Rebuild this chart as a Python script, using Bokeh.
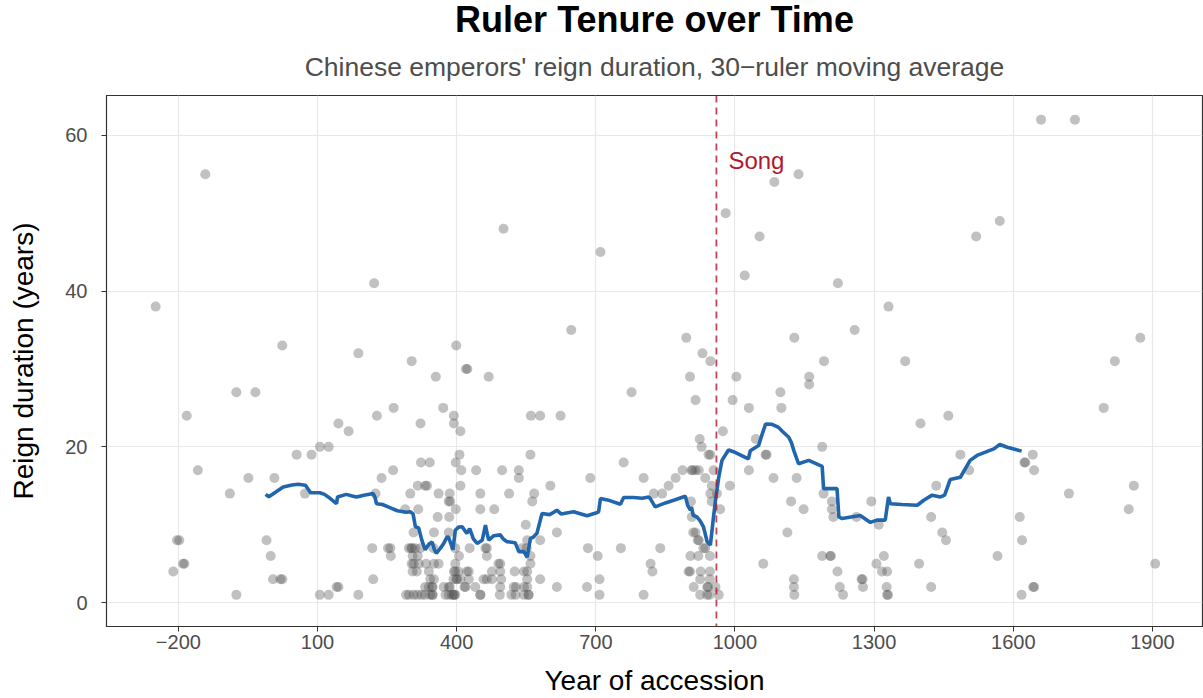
from bokeh.plotting import figure
from bokeh.models import Range1d, FixedTicker, Span, Label, Title
from bokeh.embed import file_html
from bokeh.resources import INLINE

# ---- data ----
accession_year = [
    # before 290
    -249, -211, -203, -198, -190, -187, -182, -158, -142, -89, -75, -75, -49, -34, -10, -1,
    4, 7, 20, 24, 24, 55, 73, 87, 105, 105, 124, 124, 141, 145, 145, 167,
    188, 188, 218, 220, 222, 225, 228, 238, 252, 257, 258, 263, 264, 289,
    # 290-890, reign 1
    291, 297, 307, 315, 324, 332, 343, 348, 348, 376, 383, 390, 394, 394, 397, 451, 451, 493, 518, 527, 545, 555, 555, 708, 803,
    # reign 2
    332, 340, 347, 348, 372, 383, 385, 417, 419, 440, 494, 523, 528, 545, 552, 616, 681,
    # reign 3
    343, 351, 393, 399, 401, 408, 426, 458, 465, 476, 496, 552, 580, 708,
    # reign 4
    305, 314, 340, 394, 397, 404, 422, 426, 476, 494, 525, 545, 552, 822,
    # reign 5
    303, 307, 318, 334, 351, 361, 397, 490, 494, 559, 818,
    # reign 6
    305, 316, 405, 465, 559, 704,
    # reign 7
    297, 302, 304, 310, 322, 350, 397, 428, 462, 465, 541, 551, 683, 754, 839,
    # reign 8-13
    552, 580, 307, 351, 383, 616, 549, 359, 384, 317, 398, 451, 481, 383, 386, 563,
    # reign 14
    300, 361, 385, 451, 513, 567, 825, 843,
    # reign 15-19
    316, 332, 336, 408, 602, 857, 534, 688, 803, 872, 410, 442, 498, 534, 887,
    323, 342, 398, 760, 406, 559,
    # long reigns
    408, 322, 394, 394, 560, 580, 624, 371, 777, 355, 469, 420, 423, 303, 399, 647, 710, 501,
    # 890-1010
    895, 903, 930, 947, 915, 924, 928, 906, 909, 915, 922, 954, 936, 943, 947, 974, 980, 995, 1003,
    989, 950, 947, 961, 968, 905, 950, 907, 910, 915, 920, 922, 932, 936, 921, 946, 904,
    900, 903, 926, 946, 925, 946, 911, 940, 942, 958, 925, 940, 945, 965,
    # after 1010
    1021, 1030, 1030, 1045, 1053, 1061, 1066, 1068, 1083, 1085, 1098, 1100, 1113, 1121, 1127, 1127,
    1128, 1128, 1133, 1137, 1148, 1160, 1160, 1188, 1188, 1191, 1192, 1205, 1207, 1209, 1209, 1212,
    1221, 1222, 1226, 1233, 1258, 1262, 1273, 1275, 1276, 1294, 1305, 1310, 1317, 1321, 1327, 1328,
    1328, 1330, 1331, 1367, 1397, 1400, 1423, 1423, 1434, 1447, 1455, 1460, 1486, 1505, 1520, 1566,
    1571, 1614, 1618, 1619, 1624, 1626, 1642, 1643, 1645, 1645, 1660, 1720, 1733, 1795, 1819, 1849,
    1860, 1874, 1906,
]

reign_length = [
    # before 290
    38, 4, 8, 8, 5, 5, 24, 17, 55, 14, 27, 1, 16, 27, 8, 6,
    3, 16, 3, 3, 33, 19, 14, 19, 20, 1, 20, 1, 2, 2, 23, 22,
    32, 1, 7, 3, 41, 14, 24, 16, 7, 7, 6, 17, 25, 12,
    # reign 1
    1, 1, 1, 1, 1, 1, 1, 1, 1, 1, 1, 1, 1, 1, 1, 1, 1, 1, 1, 1, 1, 1, 1, 1, 1,
    # reign 2
    2, 2, 2, 2, 2, 2, 2, 2, 2, 2, 2, 2, 2, 2, 2, 2, 2,
    # reign 3
    3, 3, 3, 3, 3, 3, 3, 3, 3, 3, 3, 3, 3, 3,
    # reign 4
    4, 4, 4, 4, 4, 4, 4, 4, 4, 4, 4, 4, 4, 4,
    # reign 5
    5, 5, 5, 5, 5, 5, 5, 5, 5, 5, 5,
    # reign 6
    6, 6, 6, 6, 6, 6,
    # reign 7
    7, 7, 7, 7, 7, 7, 7, 7, 7, 7, 7, 7, 7, 7, 7,
    # reign 8-13
    8, 8, 9, 9, 9, 9, 10, 11, 11, 12, 12, 12, 12, 13, 13, 13,
    # reign 14
    14, 14, 14, 14, 14, 14, 14, 14,
    # reign 15-19
    15, 15, 15, 15, 15, 15, 16, 16, 16, 16, 17, 17, 17, 17, 17,
    18, 18, 18, 18, 19, 19,
    # long reigns
    22, 23, 23, 24, 24, 24, 24, 25, 27, 29, 29, 30, 30, 31, 33, 35, 45, 48,
    # 890-1010
    34, 29, 32, 31, 26, 21, 20, 17, 17, 17, 17, 17, 16, 19, 19, 22, 50, 26, 29,
    15, 15, 14, 14, 12, 13, 13, 11, 9, 9, 8, 8, 7, 7, 6, 6, 6,
    4, 4, 4, 4, 3, 3, 2, 2, 2, 2, 1, 1, 1, 1,
    # after 1010
    42, 25, 17, 21, 47, 5, 19, 19, 16, 54, 27, 25, 9, 13, 3, 2,
    1, 34, 16, 55, 12, 29, 28, 20, 6, 14, 31, 6, 6, 13, 12, 11,
    4, 41, 2, 1, 35, 11, 3, 3, 2, 13, 5, 10, 4, 6, 2, 4,
    1, 1, 38, 31, 5, 23, 11, 2, 15, 9, 8, 24, 19, 17, 47, 6,
    49, 11, 1, 8, 18, 18, 19, 2, 2, 17, 62, 14, 62, 25, 31, 12,
    15, 34, 5,
]

# 30-ruler moving average
ma_year = [
    -12, -5, 10, 26, 45, 58, 74, 85, 105, 115, 123, 135, 141, 143, 162, 175, 184, 200, 220, 224,
    227, 240, 256, 272, 292, 300, 306, 311, 318, 325, 332, 340, 347, 352, 356, 365, 372, 380, 383, 392,
    397, 404, 412, 418, 422, 428, 436, 444, 455, 462, 466, 469, 480, 494, 500, 508, 526, 534, 545, 552,
    559, 565, 573, 584, 600, 605, 616, 625, 631, 652, 681, 700, 706, 710, 730, 753, 760, 781, 800, 814,
    818, 828, 850, 868, 893, 898, 904, 906, 910, 918, 925, 932, 940, 947, 953, 958, 965, 972, 986, 1000,
    1029, 1033, 1051, 1056, 1066, 1080, 1094, 1102, 1116, 1122, 1127, 1130, 1137, 1159, 1188, 1191, 1220, 1224, 1231, 1250,
    1270, 1292, 1306, 1324, 1331, 1335, 1360, 1393, 1407, 1425, 1443, 1452, 1464, 1486, 1507, 1522, 1558, 1571, 1587, 1618,
]
ma_value = [
    13.9, 13.6, 14.2, 14.85, 15.1, 15.2, 15.06, 14.1, 14.1, 13.9, 13.57, 13.0, 12.7, 13.57, 13.9, 13.7, 13.57, 13.8, 14.0, 13.5,
    12.7, 12.6, 12.2, 11.8, 11.6, 11.66, 11.4, 9.74, 9.6, 8.0, 6.8, 7.5, 7.8, 6.8, 6.34, 7.0, 7.6, 8.5, 8.3, 6.8,
    9.3, 9.7, 9.74, 9.2, 8.9, 9.5, 8.2, 7.6, 8.0, 9.96, 8.8, 8.04, 8.6, 8.7, 8.2, 7.83, 7.7, 6.55, 6.55, 5.83,
    8.26, 8.4, 8.9, 11.45, 11.3, 11.45, 11.87, 11.4, 11.45, 11.66, 11.15, 11.5, 11.66, 13.37, 13.1, 12.64, 13.5, 13.5, 13.4, 13.57,
    13.3, 12.3, 12.8, 13.15, 13.66, 12.5, 11.87, 12.3, 11.2, 11.0, 10.5, 9.74, 7.83, 7.4, 10.6, 13.15, 16.1, 18.26, 19.6, 19.3,
    18.47, 19.5, 20.17, 21.15, 22.94, 22.9, 22.5, 22.0, 21.23, 20.5, 19.5, 19.0, 17.83, 18.26, 17.5, 14.64, 14.64, 11.0, 10.8, 11.0,
    11.2, 10.3, 10.6, 10.6, 13.57, 12.7, 12.6, 12.5, 13.15, 13.8, 13.57, 13.8, 15.8, 16.1, 18.26, 18.9, 19.74, 20.3, 19.95, 19.45,
]

x_ticks = [-200, 100, 400, 700, 1000, 1300, 1600, 1900]
y_ticks = [0, 20, 40, 60]
song_year = 960
song_label = "Song"

FONT = "Liberation Sans"

p = figure(width=1203, height=698, output_backend="svg", toolbar_location=None, title=None,
           x_range=Range1d(-355, 2008), y_range=Range1d(-3.06, 65.1),
           min_border_left=106, min_border_right=1, min_border_top=0, min_border_bottom=0,
           background_fill_color="white", border_fill_color="white")

sub = Title(text="Chinese emperors' reign duration, 30\u2212ruler moving average", align="center",
            text_font_size="26.5px", text_font=FONT, text_color="#4d4d4d", text_font_style="normal",
            standoff=27)
p.add_layout(sub, "above")
main = Title(text="Ruler Tenure over Time", align="center", text_font_size="36px",
             text_font=FONT, text_color="black", text_font_style="bold", standoff=-7)
p.add_layout(main, "above")

p.outline_line_color = "#333333"
p.outline_line_width = 1.2

p.scatter(accession_year, reign_length, size=10, fill_color="#4d4d4d", fill_alpha=0.35, line_color=None)
p.line(ma_year, ma_value, line_color="#2166ac", line_width=3.6)

p.add_layout(Span(location=song_year, dimension="height", line_color="#b2182b", line_alpha=0.8,
                  line_width=1.8, line_dash="7 5"))
p.add_layout(Label(x=song_year, y=56.8, x_offset=12, text=song_label, text_color="#b2182b",
                   text_font_size="24px", text_font=FONT, text_baseline="alphabetic"))

p.xaxis.ticker = FixedTicker(ticks=x_ticks)
p.yaxis.ticker = FixedTicker(ticks=y_ticks)
p.xaxis.major_label_overrides = {-200: "\u2212200"}
for ax in (p.xaxis, p.yaxis):
    ax.axis_line_color = "#333333"
    ax.major_tick_line_color = "#333333"
    ax.major_tick_out = 5
    ax.major_tick_in = 0
    ax.minor_tick_line_color = None
    ax.major_label_text_font = FONT
    ax.major_label_text_font_size = "20px"
    ax.major_label_text_color = "#4d4d4d"
    ax.axis_label_text_font = FONT
    ax.axis_label_text_font_size = "28px"
    ax.axis_label_text_font_style = "normal"
    ax.axis_label_text_color = "black"
p.xaxis.axis_label = "Year of accession"
p.yaxis.axis_label = "Reign duration (years)"
p.xaxis.major_label_standoff = 3
p.xaxis.axis_label_standoff = 13
p.yaxis.major_label_standoff = 14
p.yaxis.axis_label_standoff = 23

p.xgrid.grid_line_color = "#e8e8e8"
p.ygrid.grid_line_color = "#e8e8e8"
p.xgrid.grid_line_width = 1.2
p.ygrid.grid_line_width = 1.2

assert len(accession_year) == len(reign_length)
assert len(ma_year) == len(ma_value)

open("out.html", "w").write(file_html(p, INLINE))
